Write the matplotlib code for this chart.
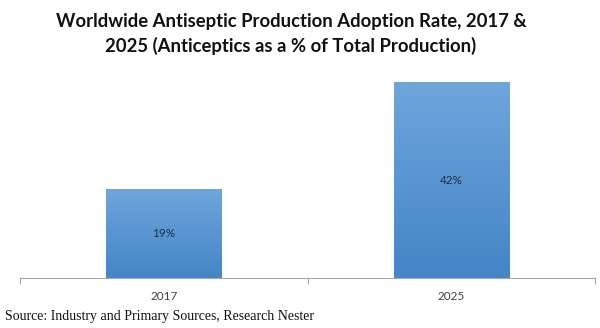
import numpy as np
import matplotlib.pyplot as plt
from matplotlib.colors import LinearSegmentedColormap

years = ["2017", "2025"]
rates = [19, 42]
labels = ["19%", "42%"]

fig = plt.figure(figsize=(6, 3.28), dpi=100)
ax = fig.add_axes([0.0333, 0.1524, 0.9584, 0.64])

x = np.arange(len(years))
bars = ax.bar(x, rates, width=0.40, color="none", edgecolor="none", zorder=2)

# vertical gradient inside each bar
cmap = LinearSegmentedColormap.from_list("bar", ["#4485c6", "#6ea6dc"])
grad = np.linspace(0, 1, 256).reshape(-1, 1)
for b, lab in zip(bars, labels):
    x0, y0 = b.get_x(), b.get_y()
    w, h = b.get_width(), b.get_height()
    im = ax.imshow(grad, extent=[x0, x0 + w, y0, y0 + h], origin="lower",
                   cmap=cmap, aspect="auto", zorder=2)
    im.set_clip_path(b)
    ax.text(x0 + w / 2, y0 + h / 2, lab,
            ha="center", va="center", fontsize=8.5, color="#1c2e44",
            family="Lato", zorder=3)

ax.set_xlim(-0.5, 1.5)
ax.set_ylim(0, 45)

for s in ["top", "right", "left"]:
    ax.spines[s].set_visible(False)
ax.spines["bottom"].set_color("#a6a6a6")
ax.spines["bottom"].set_linewidth(0.8)
ax.set_yticks([])
ax.set_xticks(x)
ax.set_xticklabels(years, fontsize=8.5, color="#404040", family="Lato")
ax.tick_params(axis="x", which="major", length=0, pad=9)
ax.set_xticks([-0.5, 0.5, 1.5], minor=True)
ax.tick_params(axis="x", which="minor", length=4, color="#a6a6a6", width=0.8)

fig.text(0.485, 0.897, "Worldwide Antiseptic Production Adoption Rate, 2017 &\n"
         "2025 (Anticeptics as a % of Total Production)",
         ha="center", va="center", fontsize=13.3, fontweight="bold",
         family="Lato", color="#111111", linespacing=1.45)

fig.text(0.008, 0.035, "Source: Industry and Primary Sources, Research Nester",
         ha="left", va="center", fontsize=10, family="Liberation Serif",
         color="#111111")

fig.savefig("out.png", dpi=100)
